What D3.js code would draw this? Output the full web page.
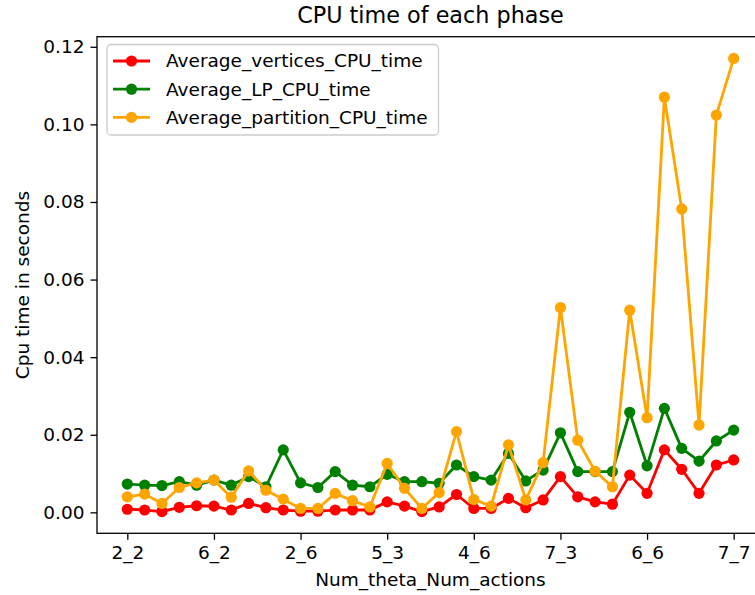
<!DOCTYPE html>
<html>
<head>
<meta charset="utf-8">
<script src="https://cdn.jsdelivr.net/npm/d3@7"></script>
<style>
  html, body { margin: 0; padding: 0; background: #fff; }
  svg { display: block; font-family: "DejaVu Sans", sans-serif; }
</style>
</head>
<body>
<svg id="chart" width="755" height="595"></svg>
<script>
// ---- data ----
const tickIndices = [0, 5, 10, 15, 20, 25, 30, 35];
const tickLabels = ["2_2", "6_2", "2_6", "5_3", "4_6", "7_3", "6_6", "7_7"];
const yTicks = [0.00, 0.02, 0.04, 0.06, 0.08, 0.10, 0.12];

const verticesCPU = [0.0008, 0.0006, 0.0002, 0.0013, 0.0017, 0.0016, 0.0006, 0.0023, 0.0012, 0.0006,
                     0.0003, 0.0003, 0.0006, 0.0006, 0.0006, 0.0027, 0.0016, 0.0002, 0.0014, 0.0046,
                     0.0010, 0.0010, 0.0036, 0.0012, 0.0032, 0.0092, 0.0040, 0.0027, 0.0021, 0.0096,
                     0.0049, 0.0161, 0.0111, 0.0049, 0.0122, 0.0135];
const lpCPU = [0.0073, 0.0070, 0.0069, 0.0079, 0.0070, 0.0083, 0.0070, 0.0092, 0.0066, 0.0161,
               0.0076, 0.0064, 0.0105, 0.0070, 0.0066, 0.0098, 0.0079, 0.0079, 0.0075, 0.0122,
               0.0092, 0.0083, 0.0152, 0.0081, 0.0109, 0.0205, 0.0105, 0.0105, 0.0105, 0.0258,
               0.0120, 0.0268, 0.0165, 0.0132, 0.0184, 0.0212];
const partitionCPU = [0.0040, 0.0047, 0.0023, 0.0064, 0.0076, 0.0083, 0.0039, 0.0107, 0.0057, 0.0034,
                      0.0010, 0.0010, 0.0049, 0.0030, 0.0014, 0.0126, 0.0062, 0.0010, 0.0051, 0.0208,
                      0.0033, 0.0016, 0.0174, 0.0032, 0.0128, 0.0528, 0.0186, 0.0106, 0.0066, 0.0521,
                      0.0244, 0.1070, 0.0782, 0.0225, 0.1024, 0.1170];

const seriesNames = ["Average_vertices_CPU_time", "Average_LP_CPU_time", "Average_partition_CPU_time"];
const seriesColors = ["#ff0000", "#008000", "#ffa500"];
const seriesValues = [verticesCPU, lpCPU, partitionCPU];

// ---- layout ----
const plot = { left: 97, right: 764, top: 36.7, bottom: 533.3 };
const svg = d3.select("#chart");
const n = verticesCPU.length;

const x = d3.scaleLinear().domain([-1.75, (n - 1) + 1.75]).range([plot.left, plot.right]);
const y = d3.scaleLinear().domain([-0.0054, 0.1226]).range([plot.bottom, plot.top]);

const fontSize = 18.5;

// axes
const xAxis = d3.axisBottom(x).tickValues(tickIndices)
  .tickFormat((d, i) => tickLabels[i]).tickSize(6.5).tickPadding(6);
const yAxis = d3.axisLeft(y).tickValues(yTicks)
  .tickFormat(d3.format(".2f")).tickSize(6.5).tickPadding(6);

const gx = svg.append("g").attr("transform", `translate(0,${plot.bottom})`).call(xAxis);
const gy = svg.append("g").attr("transform", `translate(${plot.left},0)`).call(yAxis);
[gx, gy].forEach(g => {
  g.select(".domain").remove();
  g.selectAll(".tick line").attr("stroke", "#000").attr("stroke-width", 1.3);
  g.selectAll(".tick text").attr("fill", "#000").style("font-size", fontSize + "px")
    .style("font-family", "DejaVu Sans");
});

// frame
svg.append("rect")
  .attr("x", plot.left).attr("y", plot.top)
  .attr("width", plot.right - plot.left).attr("height", plot.bottom - plot.top)
  .attr("fill", "none").attr("stroke", "#000").attr("stroke-width", 1.3);

// series
const line = d3.line().x((d, i) => x(i)).y(d => y(d));
seriesValues.forEach((vals, s) => {
  const g = svg.append("g");
  g.append("path").datum(vals).attr("d", line)
    .attr("fill", "none").attr("stroke", seriesColors[s])
    .attr("stroke-width", 2.8).attr("stroke-linejoin", "round").attr("stroke-linecap", "square");
  g.selectAll("circle").data(vals).join("circle")
    .attr("cx", (d, i) => x(i)).attr("cy", d => y(d)).attr("r", 5.6)
    .attr("fill", seriesColors[s]);
});

// title & labels
svg.append("text").attr("x", (plot.left + plot.right) / 2).attr("y", 23)
  .attr("text-anchor", "middle").style("font-size", "22.3px").text("CPU time of each phase");
svg.append("text").attr("x", (plot.left + plot.right) / 2).attr("y", 586)
  .attr("text-anchor", "middle").style("font-size", fontSize + "px").text("Num_theta_Num_actions");
svg.append("text")
  .attr("transform", `translate(29,${(plot.top + plot.bottom) / 2}) rotate(-90)`)
  .attr("text-anchor", "middle").style("font-size", fontSize + "px").text("Cpu time in seconds");

// legend
const legend = svg.append("g");
legend.append("rect").attr("x", 107).attr("y", 44.5).attr("width", 331.5).attr("height", 90.5)
  .attr("rx", 4).attr("fill", "#fff").attr("fill-opacity", 0.8)
  .attr("stroke", "#cccccc").attr("stroke-width", 1.3);
seriesNames.forEach((name, i) => {
  const cy = 61 + i * 28.2;
  legend.append("line").attr("x1", 113).attr("x2", 150).attr("y1", cy).attr("y2", cy)
    .attr("stroke", seriesColors[i]).attr("stroke-width", 2.8);
  legend.append("circle").attr("cx", 131.5).attr("cy", cy).attr("r", 5.6).attr("fill", seriesColors[i]);
  legend.append("text").attr("x", 166).attr("y", cy).attr("dy", "0.35em")
    .style("font-size", fontSize + "px").text(name);
});
</script>
</body>
</html>
